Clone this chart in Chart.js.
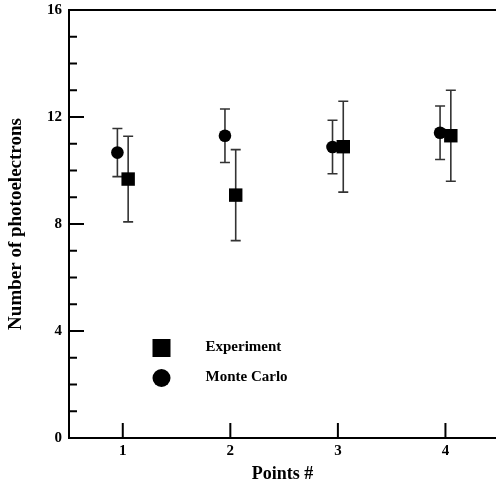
<!DOCTYPE html>
<html>
<head>
<meta charset="utf-8">
<script src="https://cdn.jsdelivr.net/npm/chart.js@4"></script>
<style>
  html, body { margin: 0; padding: 0; background: #fff; }
  #wrap { width: 496px; height: 486px; }
</style>
</head>
<body>
<div id="wrap"><canvas id="photoChart" width="496" height="486"></canvas></div>
<script>
// values
var points = [1, 2, 3, 4];
var experiment = [9.68, 9.08, 10.89, 11.30];
var experimentErr = [1.6, 1.7, 1.7, 1.7];
var monteCarlo = [10.67, 11.30, 10.88, 11.41];
var monteCarloErr = [0.9, 1.0, 1.0, 1.0];
var yMajorTicks = [0, 4, 8, 12, 16];

var serif = "'Liberation Serif', 'Times New Roman', serif";
var dodge = 0.05;

function toXY(vals, shift) {
    return vals.map(function (v, i) { return { x: points[i] + shift, y: v }; });
}

// error bars + inward ticks + top frame line + legend
var decor = {
    id: 'decor',
    beforeDatasetsDraw: function (chart) {
        var c = chart.ctx, xs = chart.scales.x, ys = chart.scales.y;
        c.save();
        c.strokeStyle = '#333';
        c.lineWidth = 1.6;
        chart.data.datasets.forEach(function (ds) {
            ds.data.forEach(function (p, i) {
                var e = ds.errors[i];
                var px = xs.getPixelForValue(p.x);
                var top = ys.getPixelForValue(p.y + e);
                var bot = ys.getPixelForValue(p.y - e);
                c.beginPath();
                c.moveTo(px, top); c.lineTo(px, bot);
                c.moveTo(px - 5, top); c.lineTo(px + 5, top);
                c.moveTo(px - 5, bot); c.lineTo(px + 5, bot);
                c.stroke();
            });
        });
        c.restore();
    },
    afterDraw: function (chart) {
        var c = chart.ctx, xs = chart.scales.x, ys = chart.scales.y;
        var a = chart.chartArea;
        c.save();
        c.strokeStyle = '#000';
        c.lineWidth = 2;
        c.beginPath();
        c.moveTo(a.left - 1, a.top);
        c.lineTo(a.right, a.top);
        for (var v = 0; v <= 16; v++) {
            var py = ys.getPixelForValue(v);
            var len = yMajorTicks.indexOf(v) >= 0 ? 15 : 8;
            c.moveTo(a.left, py);
            c.lineTo(a.left + len, py);
        }
        points.forEach(function (p) {
            var px = xs.getPixelForValue(p);
            c.moveTo(px, a.bottom);
            c.lineTo(px, a.bottom - 15);
        });
        c.stroke();

        // legend
        var lx = xs.getPixelForValue(1.36);
        c.fillStyle = '#000';
        c.fillRect(lx - 9, 339, 18, 18);
        c.beginPath();
        c.arc(lx, 378, 9, 0, Math.PI * 2);
        c.fill();
        c.font = 'bold 15px ' + serif;
        c.textBaseline = 'alphabetic';
        c.fillText('Experiment', lx + 44, 351);
        c.fillText('Monte Carlo', lx + 44, 381);
        c.restore();
    }
};

var ctx = document.getElementById('photoChart').getContext('2d');
var myChart = new Chart(ctx, {
    type: 'scatter',
    data: {
        datasets: [
            {
                label: 'Experiment',
                data: toXY(experiment, dodge),
                errors: experimentErr,
                pointStyle: 'rect',
                pointRadius: 9.5,
                backgroundColor: '#000',
                borderWidth: 0,
            },
            {
                label: 'Monte Carlo',
                data: toXY(monteCarlo, -dodge),
                errors: monteCarloErr,
                pointStyle: 'circle',
                pointRadius: 6.3,
                backgroundColor: '#000',
                borderWidth: 0,
            },
        ],
    },
    options: {
        responsive: false,
        animation: false,
        layout: { autoPadding: false, padding: { top: 10, right: 0, bottom: 0, left: 0 } },
        scales: {
            x: {
                type: 'linear',
                min: 0.5,
                max: 4.47,
                afterBuildTicks: function (s) {
                    s.ticks = points.map(function (p) { return { value: p }; });
                },
                afterFit: function (s) {
                    s.height = 48;
                    s.paddingLeft = 0;
                    s.paddingRight = 0;
                },
                grid: { display: false, drawTicks: false },
                border: { display: true, color: '#000', width: 2 },
                ticks: {
                    padding: 4,
                    color: '#000',
                    font: { family: serif, size: 15, weight: 'bold' },
                },
                title: {
                    display: true,
                    text: 'Points #',
                    color: '#000',
                    font: { family: serif, size: 18, weight: 'bold' },
                    padding: { top: 0, bottom: 1 },
                },
            },
            y: {
                min: 0,
                max: 16,
                afterBuildTicks: function (s) {
                    s.ticks = yMajorTicks.map(function (v) { return { value: v }; });
                },
                afterFit: function (s) {
                    s.width = 69;
                    s.paddingTop = 0;
                    s.paddingBottom = 0;
                },
                grid: { display: false, drawTicks: false },
                border: { display: true, color: '#000', width: 2 },
                ticks: {
                    padding: 7,
                    color: '#000',
                    font: { family: serif, size: 15, weight: 'bold' },
                },
                title: {
                    display: true,
                    text: 'Number of photoelectrons',
                    color: '#000',
                    font: { family: serif, size: 19, weight: 'bold' },
                    padding: { top: 5, bottom: 0 },
                },
            },
        },
        plugins: {
            legend: { display: false },
            tooltip: { enabled: false },
        },
    },
    plugins: [decor],
});
</script>
</body>
</html>
